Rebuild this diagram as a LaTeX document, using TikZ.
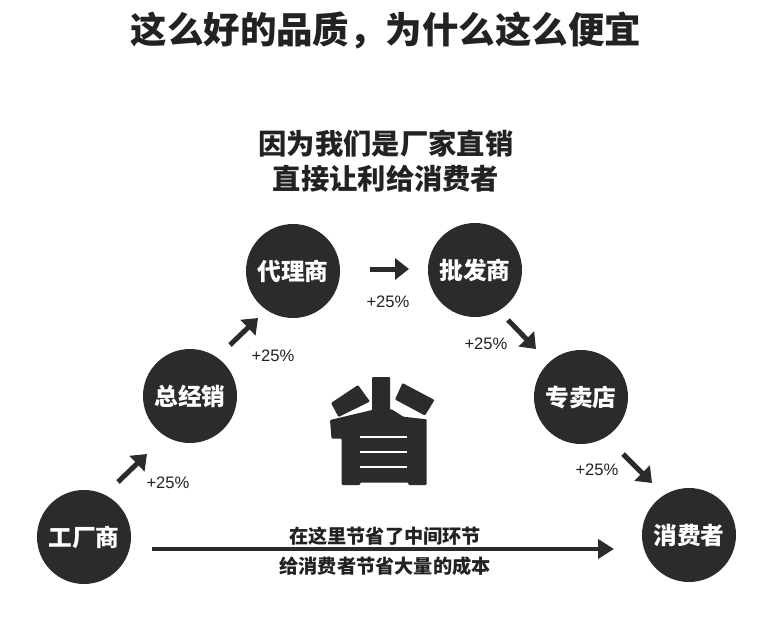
\documentclass[tikz,border=0pt]{standalone}
\usepackage{fontspec}
\setmainfont{Noto Sans CJK SC}
\newfontfamily\latinsans{Liberation Sans}
\usetikzlibrary{arrows.meta}
\definecolor{ink}{HTML}{2B2B2B}
\definecolor{txt}{HTML}{222222}
\tikzset{
  stage/.style={circle, fill=ink, minimum size=94pt, inner sep=0pt, text=white,
    font=\fontsize{23.7}{26}\selectfont\bfseries},
  pct/.style={text=txt, inner sep=0pt, font=\latinsans\fontsize{16.6}{18}\selectfont},
  shortarrow/.style={draw=ink, line width=5pt, -{Triangle[length=14pt,width=21pt]}},
  longarrow/.style={draw=ink, line width=4.5pt, -{Triangle[length=16pt,width=19pt]}},
  headline/.style={text=txt, inner sep=0pt, font=\fontsize{36.5}{40}\selectfont\bfseries},
  subline/.style={text=txt, inner sep=0pt, font=\fontsize{28.3}{32}\selectfont\bfseries},
  noteline/.style={text=txt, inner sep=0pt, font=\fontsize{19.2}{22}\selectfont\bfseries},
  glyph/.style={fill=ink, draw=none, rounded corners=1pt},
  glyphline/.style={draw=white, line width=2pt}
}
\begin{document}
\begin{tikzpicture}[x=1pt, y=-1pt]
\useasboundingbox (0,0) rectangle (780,618);
\fill[white] (0,0) rectangle (780,618);

% headings
\node[headline] (title) at (386,31) {这么好的品质，为什么这么便宜};
\node[subline] (sub1) at (386,144) {因为我们是厂家直销};
\node[subline] (sub2) at (386,179) {直接让利给消费者};

% stages
\node[stage] (gc) at (84,537) {工厂商};
\node[stage] (zj) at (190,396) {总经销};
\node[stage] (dl) at (293,271) {代理商};
\node[stage] (pf) at (475,270) {批发商};
\node[stage] (zm) at (581,397) {专卖店};
\node[stage] (xf) at (689,535) {消费者};

% short arrows
\coordinate (a1s) at (118,482); \coordinate (a1e) at (147,454);
\coordinate (a2s) at (230,345); \coordinate (a2e) at (258,318);
\coordinate (a3s) at (370,269); \coordinate (a3e) at (409,269);
\coordinate (a4s) at (508,320); \coordinate (a4e) at (536,349);
\coordinate (a5s) at (623,454); \coordinate (a5e) at (652,483);
\draw[shortarrow] (a1s) -- (a1e);
\draw[shortarrow] (a2s) -- (a2e);
\draw[shortarrow] (a3s) -- (a3e);
\draw[shortarrow] (a4s) -- (a4e);
\draw[shortarrow] (a5s) -- (a5e);

% percentages
\node[pct] (p1) at (168,483) {+25\%};
\node[pct] (p2) at (273,356) {+25\%};
\node[pct] (p3) at (388,302) {+25\%};
\node[pct] (p4) at (486,344) {+25\%};
\node[pct] (p5) at (597,470) {+25\%};

% long arrow
\coordinate (ls) at (152,549);
\coordinate (le) at (614,549);
\draw[longarrow] (ls) -- (le);
\node[noteline] (n1) at (385,536.5) {在这里节省了中间环节};
\node[noteline] (n2) at (385,566) {给消费者节省大量的成本};

% stylised 省
\fill[glyph] (331,403) -- (358,385) -- (370,401.5) -- (338.5,417) -- cycle;
\fill[glyph] (372,377) rectangle (390,412);
\fill[glyph] (402.5,383) -- (434.5,400) -- (425,415.5) -- (395,399.5) -- cycle;
\fill[glyph] (330,420) -- (331.5,438.5) -- (341.7,438.5) -- (341.7,485) -- (360,485)
  -- (360,482.5) -- (408.3,482.5) -- (408.3,485) -- (426.7,485) -- (426.7,419.3)
  -- (403.3,416.7) -- (391.7,409.3) -- (375,409.3) -- cycle;
\draw[glyphline] (360,436.7) -- (406.7,436.7);
\draw[glyphline] (360,451.7) -- (406.7,451.7);
\draw[glyphline] (360,467.3) -- (406.7,467.3);
\end{tikzpicture}
\end{document}
